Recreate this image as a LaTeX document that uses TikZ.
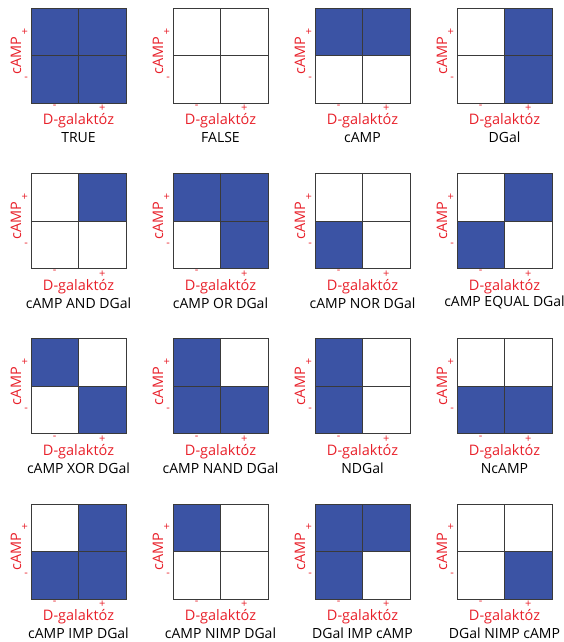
\documentclass[tikz,border=0pt]{standalone}
\usepackage{fontspec}
\setmainfont{Open Sans}
\usetikzlibrary{positioning}
\definecolor{cellblue}{HTML}{3B53A4}
\definecolor{axisred}{HTML}{E8202A}
\definecolor{gridgray}{HTML}{3A3A3A}
\tikzset{
  cell/.style={draw=gridgray,line width=0.6pt,minimum width=47.5pt,
               minimum height=47.5pt,inner sep=0pt,outer sep=0pt},
  tile0/.style={cell,fill=white},
  tile1/.style={cell,fill=cellblue},
  signlabel/.style={text=axisred,font=\fontsize{11}{11}\selectfont,inner sep=0pt},
  axislabel/.style={text=axisred,font=\fontsize{14.5}{14}\selectfont,inner sep=0pt},
  gatelabel/.style={text=black,font=\fontsize{14}{14}\selectfont,inner sep=0pt}
}
\begin{document}
\begin{tikzpicture}[x=1pt,y=-1pt]
  \useasboundingbox (0,0) rectangle (564,642);
  % one panel per gate: tl/tr/bl/br = (cAMP,DGal) = (+,-)/(+,+)/(-,-)/(-,+)
  \foreach \name/\tl/\tr/\bl/\br [count=\k from 0] in {
      TRUE/1/1/1/1, FALSE/0/0/0/0, cAMP/1/1/0/0, DGal/0/1/0/1,
      cAMP AND DGal/0/1/0/0, cAMP OR DGal/1/1/0/1,
      cAMP NOR DGal/0/0/1/0, cAMP EQUAL DGal/0/1/1/0,
      cAMP XOR DGal/1/0/0/1, cAMP NAND DGal/1/0/1/1,
      NDGal/1/0/1/0, NcAMP/0/0/1/1,
      cAMP IMP DGal/0/1/1/1, cAMP NIMP DGal/1/0/0/0,
      DGal IMP cAMP/1/1/1/0, DGal NIMP cAMP/0/0/0/1}{
    \pgfmathsetmacro{\x}{31+142*mod(\k,4)}
    \pgfmathsetmacro{\y}{8+165.3*div(\k,4)}
    \node[tile\tl,anchor=north west] (tl\k) at (\x,\y) {};
    \node[tile\tr,right=0pt of tl\k] (tr\k) {};
    \node[tile\bl,below=0pt of tl\k] (bl\k) {};
    \node[tile\br,below=0pt of tr\k] (br\k) {};
    % axes
    \node[signlabel,left=3pt of tl\k] (yp\k) {+};
    \node[signlabel,left=3pt of bl\k] (ym\k) {-};
    \node[axislabel,rotate=90] (ya\k) at ([xshift=-15pt]tl\k.south west) {cAMP};
    \node[signlabel,below=2pt of bl\k] (xm\k) {-};
    \node[signlabel,below=2pt of br\k] (xp\k) {+};
    \node[axislabel] (xa\k) at ([yshift=-18pt]bl\k.south east) {D-galaktóz};
    \node[gatelabel] (gate\k) at ([yshift=-34.5pt]bl\k.south east) {\name};
  }
\end{tikzpicture}
\end{document}
